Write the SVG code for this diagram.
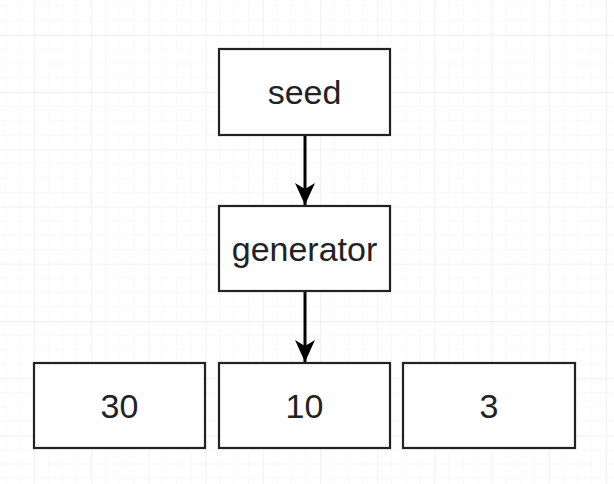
<svg xmlns="http://www.w3.org/2000/svg" width="614" height="484" viewBox="0 0 614 484">
<defs>
<pattern id="grid" patternUnits="userSpaceOnUse" x="34" y="35" width="57.2" height="57.2">
<path d="M14.3 0V57.2M28.6 0V57.2M42.9 0V57.2M0 14.3H57.2M0 28.6H57.2M0 42.9H57.2" stroke="#f9f9f9" stroke-width="1" fill="none"/>
<path d="M0.5 0V57.2M0 0.5H57.2" stroke="#f1f1f1" stroke-width="1" fill="none"/>
</pattern>
<marker id="arr" markerUnits="userSpaceOnUse" viewBox="0 0 22 20" markerWidth="22" markerHeight="20" refX="22" refY="10" orient="auto">
<path d="M0 0L22 10L0 20L6 10Z" fill="#000"/>
</marker>
<style>
.box{fill:#fff;stroke:#222;stroke-width:2.2}
.lbl{font-family:"Liberation Sans",Arial,sans-serif;font-size:34px;fill:#222;text-anchor:middle}
.edge{stroke:#000;stroke-width:3;fill:none}
</style>
</defs>
<rect width="614" height="484" fill="#fff"/>
<rect width="614" height="484" fill="url(#grid)"/>
<g id="connectors">
<path class="edge" d="M305 135V205" marker-end="url(#arr)"/>
<path class="edge" d="M305 291V362" marker-end="url(#arr)"/>
</g>
<g id="seed"><rect class="box" x="219" y="49" width="171" height="86"/><text class="lbl" x="304.5" y="104">seed</text></g>
<g id="generator"><rect class="box" x="219" y="206" width="171" height="85"/><text class="lbl" x="304.5" y="261">generator</text></g>
<g id="n30"><rect class="box" x="34" y="363" width="171" height="85"/><text class="lbl" x="119.5" y="418">30</text></g>
<g id="n10"><rect class="box" x="219" y="363" width="171" height="85"/><text class="lbl" x="304.5" y="418">10</text></g>
<g id="n3"><rect class="box" x="403" y="363" width="172" height="85"/><text class="lbl" x="489" y="418">3</text></g>
</svg>
